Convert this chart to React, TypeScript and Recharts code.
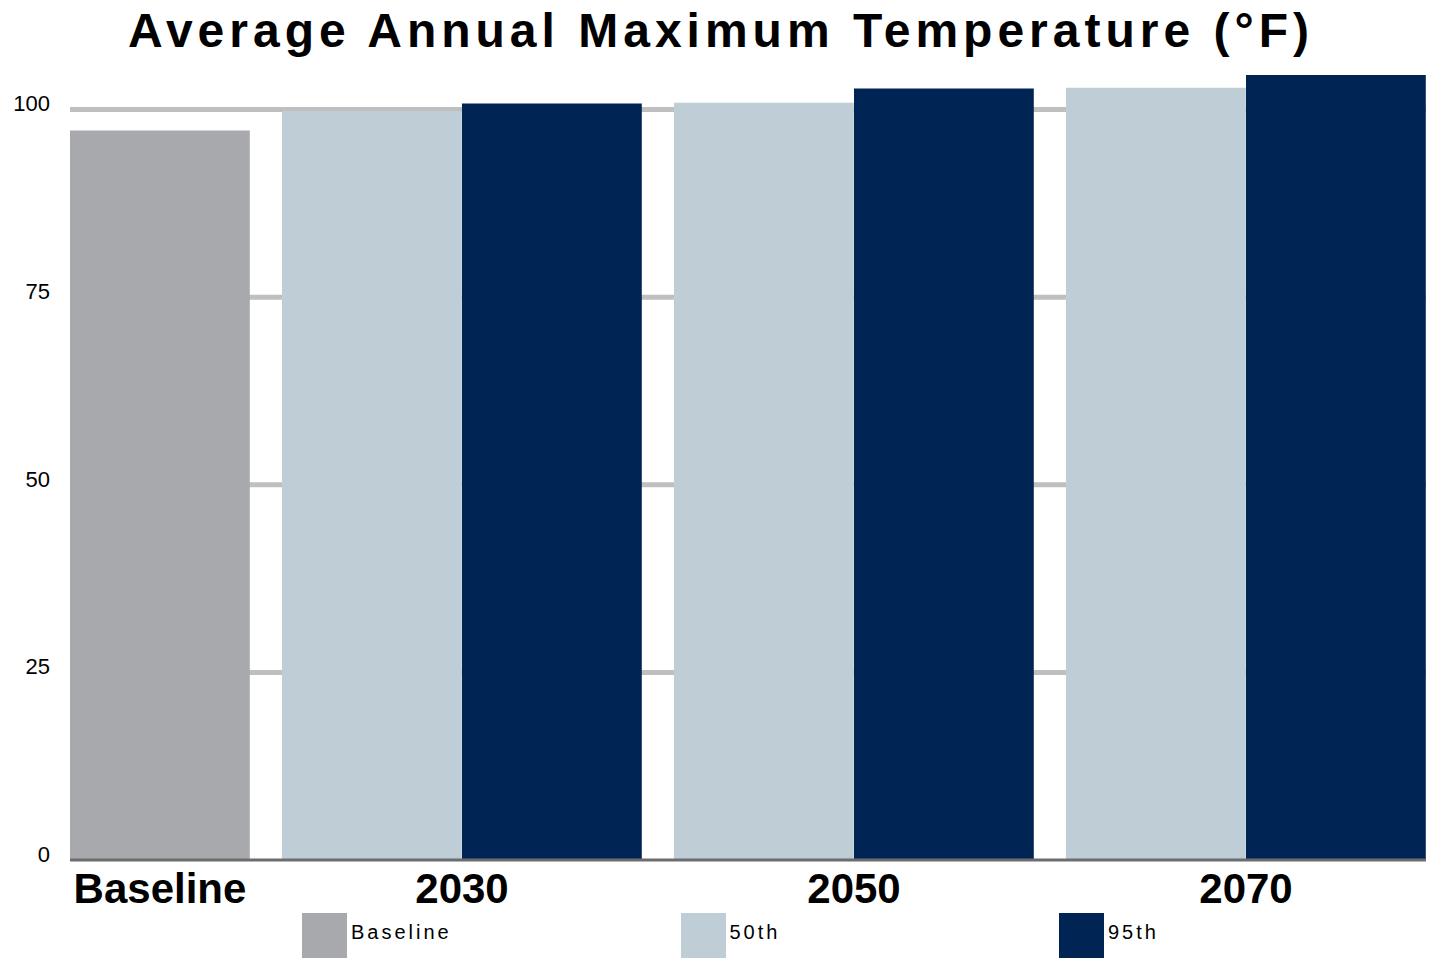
import React from "react";
import {
  BarChart,
  Bar,
  XAxis,
  YAxis,
  CartesianGrid,
  Legend,
} from "recharts";

const categories = ["Baseline", "2030", "2050", "2070"];
const seriesNames = ["Baseline", "50th", "95th"];
const baselineValues = [97.2];
const p50Values = [99.8, 100.9, 102.9];
const p95Values = [100.8, 102.8, 104.6];
const yTicks = [0, 25, 50, 75, 100];

const COLORS = {
  baseline: "#a8a9ac",
  p50: "#bfcdd6",
  p95: "#002554",
};

// one bar = 1 unit on the x scale, gap between groups in the same units
const GAP = 32 / 180;
// recharts shrinks to 90% if barSize >= band, so stay just under it
const BAR_PX = 179.8;

type Row = { x: number; baseline: number; p50: number; p95: number };

const rows: Row[] = [];
const tickPos: number[] = [];

rows.push({ x: 0.5, baseline: baselineValues[0], p50: 0, p95: 0 });
tickPos.push(0.5);
p50Values.forEach((v, i) => {
  const start = 1 + GAP + i * (2 + GAP);
  rows.push({ x: start + 0.5, baseline: 0, p50: v, p95: 0 });
  rows.push({ x: start + 1.5, baseline: 0, p50: 0, p95: p95Values[i] });
  tickPos.push(start + 1);
});

const xMax = 1 + 3 * (2 + GAP);

const CategoryTick = (props: any) => {
  const { x, y, payload } = props;
  const idx = tickPos.findIndex((p) => Math.abs(p - payload.value) < 1e-6);
  return (
    <text
      x={x}
      y={y + 43}
      textAnchor="middle"
      fontFamily="'Liberation Sans', Arial, sans-serif"
      fontWeight="bold"
      fontSize={42}
      fill="#000"
    >
      {categories[idx] ?? ""}
    </text>
  );
};

const LegendContent = (props: any) => {
  const payload = [...(props.payload || [])].sort(
    (a: any, b: any) =>
      seriesNames.indexOf(a.value) - seriesNames.indexOf(b.value)
  );
  return (
    <div style={{ display: "flex" }}>
      {payload.map((entry: any) => (
        <div key={entry.value} style={{ display: "flex", width: 378.5 }}>
          <div style={{ width: 45, height: 45, background: entry.color }} />
          <span
            style={{
              marginLeft: 4,
              marginTop: 9,
              fontFamily: "'Liberation Sans', Arial, sans-serif",
              fontSize: 20,
              lineHeight: "20px",
              letterSpacing: 3,
              color: "#000",
            }}
          >
            {entry.value}
          </span>
        </div>
      ))}
    </div>
  );
};

export default function App() {
  return (
    <div
      style={{
        position: "absolute",
        left: 0,
        top: 0,
        width: 1456,
        height: 966,
        background: "#fff",
      }}
    >
      <div
        style={{
          position: "absolute",
          left: -7,
          top: 3,
          width: 1456,
          textAlign: "center",
          fontFamily: "'Liberation Sans', Arial, sans-serif",
          fontWeight: "bold",
          fontSize: 48,
          letterSpacing: 5,
          whiteSpace: "nowrap",
          color: "#000",
        }}
      >
        Average Annual Maximum Temperature (°F)
      </div>
      <BarChart
        width={1456}
        height={966}
        data={rows}
        barCategoryGap={0}
        barGap={0}
        margin={{ top: 72, right: 30, left: 0, bottom: 56 }}
      >
        <CartesianGrid
          horizontal={true}
          vertical={false}
          horizontalValues={[25, 50, 75, 100]}
          stroke="#bfbfbf"
          strokeWidth={5}
        />
        <XAxis
          dataKey="x"
          type="number"
          domain={[0, xMax]}
          ticks={tickPos}
          interval={0}
          height={50}
          tickLine={false}
          tickSize={0}
          tickMargin={0}
          axisLine={{ stroke: "#6d6d6d", strokeWidth: 3 }}
          tick={<CategoryTick />}
        />
        <YAxis
          domain={[0, 105]}
          ticks={yTicks}
          width={70}
          axisLine={false}
          tickLine={false}
          tickSize={0}
          tickMargin={20}
          tick={{
            fontSize: 22,
            fill: "#000",
            fontFamily: "'Liberation Sans', Arial, sans-serif",
            dy: -6,
          }}
        />
        <Legend
          layout="horizontal"
          verticalAlign="middle"
          align="center"
          wrapperStyle={{ top: 913, left: 302, width: 1140, height: 46 }}
          content={<LegendContent />}
        />
        <Bar
          dataKey="baseline"
          name="Baseline"
          stackId="a"
          fill={COLORS.baseline}
          barSize={BAR_PX}
          isAnimationActive={false}
        />
        <Bar
          dataKey="p50"
          name="50th"
          stackId="a"
          fill={COLORS.p50}
          barSize={BAR_PX}
          isAnimationActive={false}
        />
        <Bar
          dataKey="p95"
          name="95th"
          stackId="a"
          fill={COLORS.p95}
          barSize={BAR_PX}
          isAnimationActive={false}
        />
      </BarChart>
    </div>
  );
}
